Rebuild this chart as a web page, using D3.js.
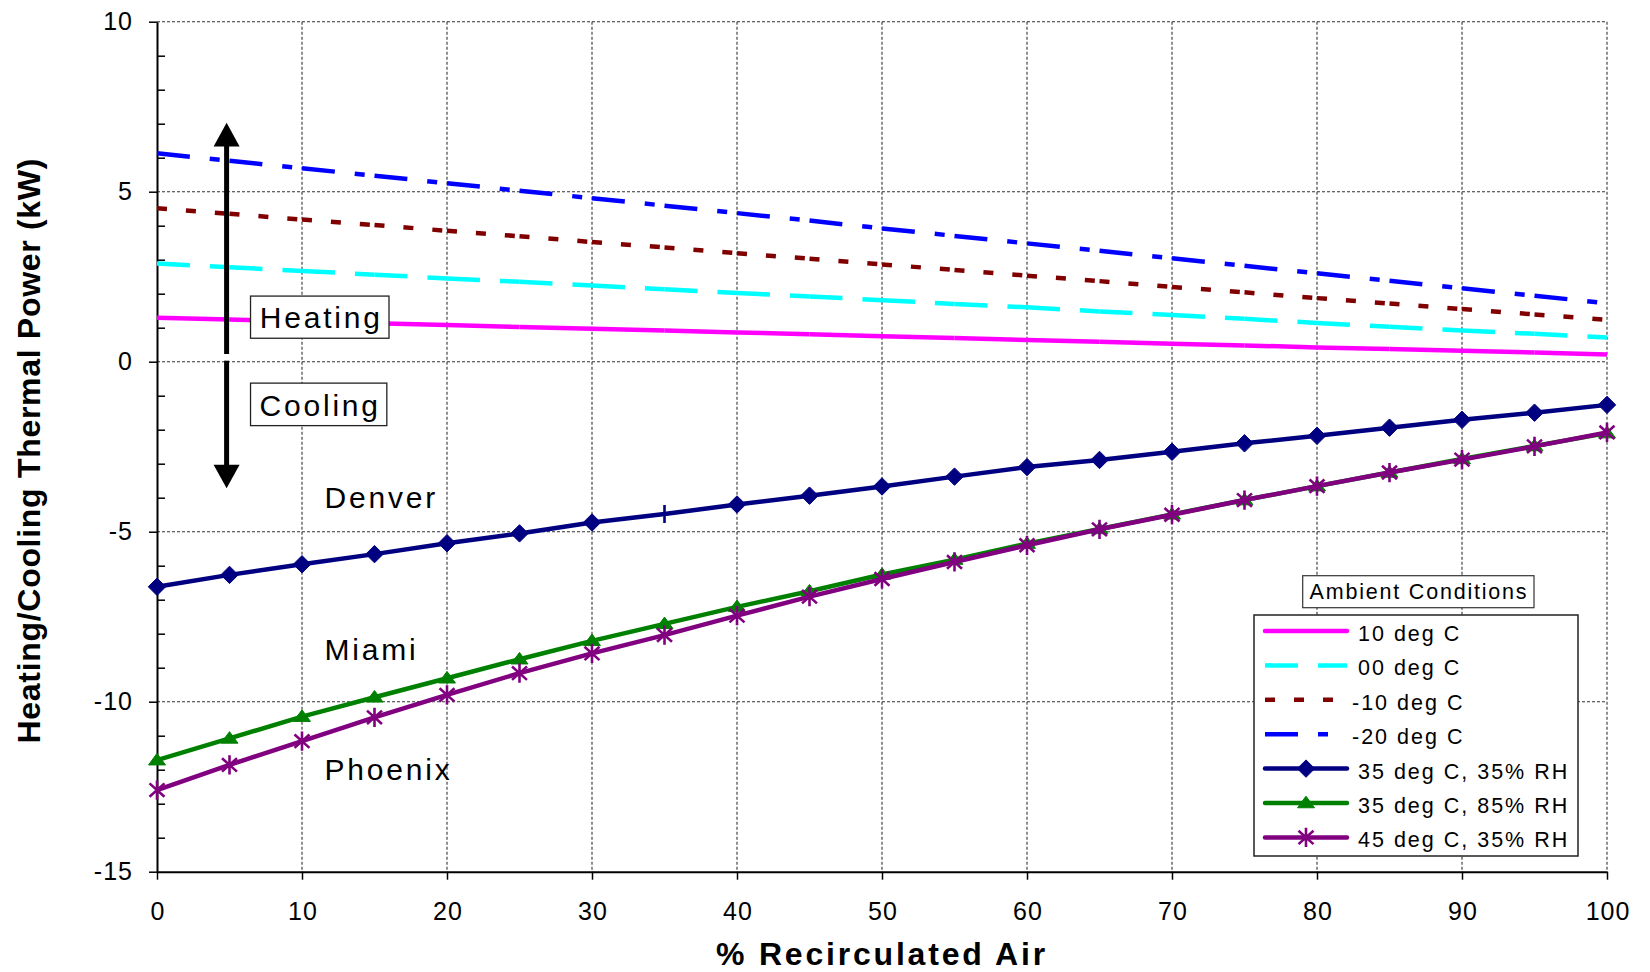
<!DOCTYPE html>
<html>
<head>
<meta charset="utf-8">
<script src="https://cdn.jsdelivr.net/npm/d3@7"></script>
<style>
  body { margin: 0; background: #fff; }
  svg { display: block; font-family: "Liberation Sans", Arial, sans-serif; }
</style>
</head>
<body>
<svg id="chart" width="1650" height="972"></svg>
<script>
// % recirculated air
const recirc = [0, 5, 10, 15, 20, 25, 30, 35, 40, 45, 50, 55, 60, 65, 70, 75, 80, 85, 90, 95, 100];

// heating cases (kW)
const heat10 = [1.29, 1.24, 1.18, 1.13, 1.08, 1.02, 0.97, 0.92, 0.86, 0.81, 0.75, 0.70, 0.64, 0.59, 0.53, 0.48, 0.42, 0.37, 0.32, 0.27, 0.21];
const heat00 = [2.89, 2.78, 2.67, 2.56, 2.45, 2.35, 2.24, 2.13, 2.02, 1.92, 1.81, 1.70, 1.60, 1.48, 1.37, 1.26, 1.14, 1.03, 0.92, 0.82, 0.71];
const heatM10 = [4.51, 4.35, 4.18, 4.02, 3.85, 3.69, 3.52, 3.36, 3.19, 3.03, 2.86, 2.70, 2.53, 2.37, 2.20, 2.04, 1.87, 1.71, 1.55, 1.39, 1.23];
const heatM20 = [6.13, 5.91, 5.69, 5.47, 5.25, 5.03, 4.81, 4.59, 4.37, 4.15, 3.92, 3.70, 3.48, 3.26, 3.04, 2.82, 2.60, 2.38, 2.16, 1.94, 1.72];

// cooling cases (kW)
const denver = [-6.62, -6.27, -5.96, -5.66, -5.34, -5.05, -4.73, -4.48, -4.20, -3.94, -3.67, -3.38, -3.10, -2.89, -2.65, -2.40, -2.18, -1.94, -1.71, -1.50, -1.27];
const miami = [-11.72, -11.08, -10.44, -9.87, -9.31, -8.75, -8.21, -7.71, -7.21, -6.75, -6.26, -5.82, -5.35, -4.92, -4.49, -4.07, -3.66, -3.26, -2.86, -2.48, -2.10];
const phoenix = [-12.60, -11.86, -11.16, -10.46, -9.80, -9.16, -8.58, -8.04, -7.47, -6.91, -6.39, -5.89, -5.40, -4.93, -4.50, -4.07, -3.66, -3.26, -2.88, -2.49, -2.08];
const denverOddMarker = [35]; // that point shows a bar instead of a diamond

const seriesNames = ['10 deg C', '00 deg C', '-10 deg C', '-20 deg C',
  '35 deg C, 35% RH', '35 deg C, 85% RH', '45 deg C, 35% RH'];

const xTicks = [0, 10, 20, 30, 40, 50, 60, 70, 80, 90, 100];
const yTicks = [-15, -10, -5, 0, 5, 10];
const yMinorTicks = [-14, -13, -12, -11, -9, -8, -7, -6, -4, -3, -2, -1, 1, 2, 3, 4, 6, 7, 8, 9];

const plotLeft = 157, plotRight = 1607, plotTop = 21.7, plotBottom = 871.7;

const x = d3.scaleLinear().domain([0, 100]).range([plotLeft, plotRight]);
const y = d3.scaleLinear().domain([-15, 10]).range([plotBottom, plotTop]);

// marker shapes
const diamond = {
  draw(ctx, size) {
    const r = Math.sqrt(size);
    ctx.moveTo(0, -r); ctx.lineTo(r, 0); ctx.lineTo(0, r); ctx.lineTo(-r, 0); ctx.closePath();
  }
};
const triangle = {
  draw(ctx, size) {
    const r = Math.sqrt(size);
    ctx.moveTo(0, -r * 0.8); ctx.lineTo(r, r * 0.56); ctx.lineTo(-r, r * 0.56); ctx.closePath();
  }
};
const star = {
  draw(ctx, size) {
    const r = Math.sqrt(size);
    ctx.moveTo(0, -r); ctx.lineTo(0, r);
    ctx.moveTo(-r * 0.78, -r * 0.7); ctx.lineTo(r * 0.78, r * 0.7);
    ctx.moveTo(-r * 0.78, r * 0.7); ctx.lineTo(r * 0.78, -r * 0.7);
  }
};
const bar = {
  draw(ctx, size) {
    const r = Math.sqrt(size);
    ctx.moveTo(0, -r); ctx.lineTo(0, r);
  }
};

const series = [
  { name: seriesNames[0], values: heat10, color: '#ff00ff', dash: null },
  { name: seriesNames[1], values: heat00, color: '#00ffff', dash: '33,20' },
  { name: seriesNames[2], values: heatM10, color: '#800000', dash: '10,19' },
  { name: seriesNames[3], values: heatM20, color: '#0000ff', dash: '33,20,10,19' },
  { name: seriesNames[4], values: denver, color: '#000080', marker: diamond, size: 76, filled: true },
  { name: seriesNames[5], values: miami, color: '#008000', marker: triangle, size: 72, filled: true },
  { name: seriesNames[6], values: phoenix, color: '#800080', marker: star, size: 92, filled: false }
];

const svg = d3.select('#chart');

// grid
const grid = svg.append('g')
  .attr('stroke', '#333')
  .attr('stroke-width', 1.1)
  .attr('stroke-dasharray', '3,2');
grid.selectAll('line.v')
  .data(xTicks.filter((d) => d > 0))
  .enter()
  .append('line')
  .attr('x1', (d) => x(d))
  .attr('x2', (d) => x(d))
  .attr('y1', y(10))
  .attr('y2', y(-15));
grid.selectAll('line.h')
  .data(yTicks.filter((d) => d > -15))
  .enter()
  .append('line')
  .attr('x1', x(0))
  .attr('x2', x(100))
  .attr('y1', (d) => y(d))
  .attr('y2', (d) => y(d));

// axes
const yAxis = svg.append('g')
  .attr('transform', `translate(${plotLeft},0)`)
  .call(d3.axisLeft(y).tickValues(yTicks).tickSize(8).tickSizeOuter(0).tickPadding(16).tickFormat((d) => `${d}`));
svg.append('g')
  .attr('transform', `translate(${plotLeft},0)`)
  .call(d3.axisLeft(y).tickValues(yMinorTicks).tickSize(-8).tickFormat(''))
  .call((g) => g.select('.domain').remove());
const xAxis = svg.append('g')
  .attr('transform', `translate(0,${plotBottom})`)
  .call(d3.axisBottom(x).tickValues(xTicks).tickSize(8).tickSizeOuter(0).tickPadding(23));

svg.selectAll('.tick line').attr('stroke', '#000').attr('stroke-width', 1.5);
svg.selectAll('.domain').attr('stroke', '#000').attr('stroke-width', 2);
[yAxis, xAxis].forEach((g) => g.selectAll('text')
  .attr('fill', '#000')
  .style('font-size', '25px')
  .style('letter-spacing', '1px')
  .style('font-family', '"Liberation Sans", Arial, sans-serif'));
xAxis.selectAll('text').attr('dx', '0.5px');

// heating lines: dash pattern restarts at every data point, so each leg is drawn alone
series.slice(0, 4).forEach((s) => {
  svg.append('g')
    .selectAll('line')
    .data(d3.pairs(recirc.map((r, i) => [r, s.values[i]])))
    .enter()
    .append('line')
    .attr('x1', (d) => x(d[0][0]))
    .attr('y1', (d) => y(d[0][1]))
    .attr('x2', (d) => x(d[1][0]))
    .attr('y2', (d) => y(d[1][1]))
    .attr('stroke', s.color)
    .attr('stroke-width', 4.5)
    .attr('stroke-dasharray', s.dash);
});

// cooling lines with markers
const line = d3.line().x((d) => x(d[0])).y((d) => y(d[1]));
series.slice(4).forEach((s) => {
  const pts = recirc.map((r, i) => [r, s.values[i]]);
  const g = svg.append('g');
  g.append('path')
    .attr('d', line(pts))
    .attr('fill', 'none')
    .attr('stroke', s.color)
    .attr('stroke-width', 4.5)
    .attr('stroke-linejoin', 'round');
  g.selectAll('path.mk')
    .data(pts)
    .enter()
    .append('path')
    .classed('mk', true)
    .attr('transform', (d) => `translate(${x(d[0])},${y(d[1])})`)
    .attr('d', (d) => {
      const odd = s.values === denver && denverOddMarker.includes(d[0]);
      return d3.symbol(odd ? bar : s.marker, odd ? 81 : s.size)();
    })
    .attr('fill', s.filled ? s.color : 'none')
    .attr('stroke', s.color)
    .attr('stroke-width', (d) => (s.filled && !(s.values === denver && denverOddMarker.includes(d[0]))) ? 1 : 2.6);
});

// heating / cooling arrows
const arrows = svg.append('g').attr('fill', '#000').attr('stroke', '#000');
const ax = x(4.8);
arrows.append('line')
  .attr('x1', ax).attr('x2', ax)
  .attr('y1', y(0.23)).attr('y2', y(6.4))
  .attr('stroke-width', 5);
arrows.append('path')
  .attr('d', `M${ax},${y(7.03)}L${ax + 13},${y(6.33)}L${ax - 13},${y(6.33)}Z`)
  .attr('stroke', 'none');
arrows.append('line')
  .attr('x1', ax).attr('x2', ax)
  .attr('y1', y(0.03)).attr('y2', y(-3.1))
  .attr('stroke-width', 5);
arrows.append('path')
  .attr('d', `M${ax},${y(-3.72)}L${ax + 13},${y(-3.03)}L${ax - 13},${y(-3.03)}Z`)
  .attr('stroke', 'none');

// boxed labels
const boxes = [
  { text: 'Heating', x0: 6.45, x1: 16.0, y0: 1.93, y1: 0.69 },
  { text: 'Cooling', x0: 6.45, x1: 15.85, y0: -0.63, y1: -1.88 }
];
boxes.forEach((b) => {
  svg.append('rect')
    .attr('x', x(b.x0)).attr('y', y(b.y0))
    .attr('width', x(b.x1) - x(b.x0)).attr('height', y(b.y1) - y(b.y0))
    .attr('fill', '#fff').attr('stroke', '#222').attr('stroke-width', 1.3);
  svg.append('text')
    .attr('x', (x(b.x0) + x(b.x1)) / 2 + 1.5)
    .attr('y', y(b.y1) - 10)
    .attr('text-anchor', 'middle')
    .style('font-size', '30px')
    .style('letter-spacing', '2.8px')
    .text(b.text);
});

// city labels
const cities = [['Denver', -4.30], ['Miami', -8.77], ['Phoenix', -12.30]];
svg.append('g')
  .selectAll('text')
  .data(cities)
  .enter()
  .append('text')
  .attr('x', x(11.55))
  .attr('y', (d) => y(d[1]))
  .style('font-size', '30px')
  .style('letter-spacing', '2.8px')
  .text((d) => d[0]);

// axis titles
svg.append('text')
  .attr('transform', `translate(40,${(plotTop + plotBottom) / 2 + 4}) rotate(-90)`)
  .attr('text-anchor', 'middle')
  .style('font-size', '32px')
  .style('font-weight', 'bold')
  .style('letter-spacing', '0.7px')
  .text('Heating/Cooling Thermal Power (kW)');
svg.append('text')
  .attr('x', (plotLeft + plotRight) / 2)
  .attr('y', 965)
  .attr('text-anchor', 'middle')
  .style('font-size', '32px')
  .style('font-weight', 'bold')
  .style('letter-spacing', '2.8px')
  .text('% Recirculated Air');

// legend
const lg = svg.append('g');
lg.append('rect')
  .attr('x', 1302.7).attr('y', 575.7).attr('width', 231.3).attr('height', 32)
  .attr('fill', '#fff').attr('stroke', '#333').attr('stroke-width', 1.2);
lg.append('text')
  .attr('x', 1419).attr('y', 599)
  .attr('text-anchor', 'middle')
  .style('font-size', '21.5px')
  .style('letter-spacing', '1.8px')
  .text('Ambient Conditions');
lg.append('rect')
  .attr('x', 1254).attr('y', 615).attr('width', 324).attr('height', 241)
  .attr('fill', '#fff').attr('stroke', '#222').attr('stroke-width', 1.5);

const rows = lg.selectAll('g.row')
  .data(series)
  .enter()
  .append('g')
  .classed('row', true)
  .attr('transform', (_, i) => `translate(0,${631 + i * 34.4})`);
rows.append('line')
  .attr('x1', 1265).attr('x2', 1347)
  .attr('stroke', (d) => d.color)
  .attr('stroke-width', 4.5)
  .attr('stroke-linecap', (d) => d.dash ? 'butt' : 'round')
  .attr('stroke-dasharray', (d) => d.dash);
rows.filter((d) => d.marker)
  .append('path')
  .attr('transform', 'translate(1306,0)')
  .attr('d', (d) => d3.symbol(d.marker, d.size)())
  .attr('fill', (d) => d.filled ? d.color : 'none')
  .attr('stroke', (d) => d.color)
  .attr('stroke-width', (d) => d.filled ? 1 : 2.6);
rows.append('text')
  .attr('x', (d) => d.name.startsWith('-') ? 1352 : 1358)
  .attr('y', 10)
  .style('font-size', '21.5px')
  .style('letter-spacing', '2px')
  .text((d) => d.name);
</script>
</body>
</html>
